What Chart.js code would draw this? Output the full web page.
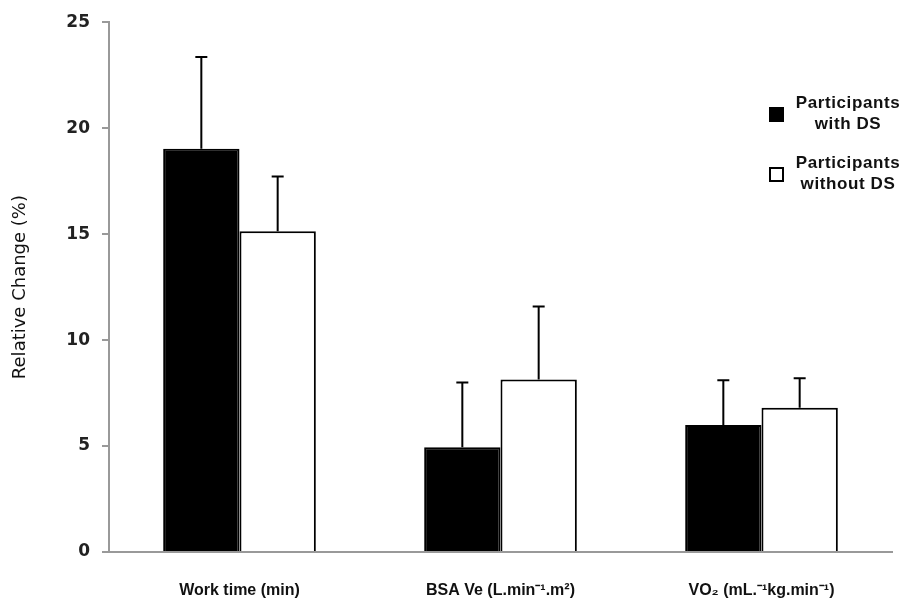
<!DOCTYPE html>
<html>
<head>
<meta charset="utf-8">
<script src="https://cdn.jsdelivr.net/npm/chart.js@4/dist/chart.umd.min.js"></script>
<style>
    html, body { margin: 0; padding: 0; background: #fff; }
    #wrap { position: relative; width: 899px; height: 602px; overflow: hidden; }
    .legend { position: absolute; left: 0; top: 0; font-family: "Liberation Sans", Arial, sans-serif; font-weight: bold; font-size: 17px; letter-spacing: 0.6px; color: #111; }
    .legend .box { position: absolute; width: 11px; height: 11px; border: 2px solid #000; box-sizing: content-box; }
    .legend .txt { position: absolute; width: 124px; text-align: center; line-height: 21px; white-space: nowrap; }
</style>
</head>
<body>
<div id="wrap">
    <canvas id="relChart" width="899" height="602"></canvas>
    <div class="legend">
        <div class="box" style="left:769px;top:107px;background:#000;"></div>
        <div class="txt" style="left:786px;top:92px;">Participants<br>with DS</div>
        <div class="box" style="left:769px;top:167px;background:#fff;"></div>
        <div class="txt" style="left:786px;top:152px;">Participants<br>without DS</div>
    </div>
</div>
<script>
const categories = ['Work time (min)', 'BSA Ve (L.min\u207B\u00B9.m\u00B2)', 'VO\u2082 (mL.\u207B\u00B9kg.min\u207B\u00B9)'];
const withDS = [19.03, 4.94, 5.99];
const withDSErr = [4.33, 3.06, 2.12];
const withoutDS = [15.13, 8.14, 6.81];
const withoutDSErr = [2.59, 3.44, 1.39];
const yTicks = [0, 5, 10, 15, 20, 25];

const errorBars = {
    id: 'errorBars',
    afterDatasetsDraw(chart) {
        const { ctx, scales: { y } } = chart;
        const errs = [withDSErr, withoutDSErr];
        ctx.save();
        ctx.strokeStyle = '#000';
        ctx.lineWidth = 2;
        chart.data.datasets.forEach((ds, i) => {
            chart.getDatasetMeta(i).data.forEach((bar, j) => {
                const top = y.getPixelForValue(ds.data[j]);
                const end = y.getPixelForValue(ds.data[j] + errs[i][j]);
                ctx.beginPath();
                ctx.moveTo(bar.x, top);
                ctx.lineTo(bar.x, end);
                ctx.moveTo(bar.x - 6, end);
                ctx.lineTo(bar.x + 6, end);
                ctx.stroke();
            });
        });
        ctx.restore();
    },
};

new Chart(document.getElementById('relChart'), {
    type: 'bar',
    data: {
        labels: categories,
        datasets: [
            { label: 'Participants with DS', data: withDS, backgroundColor: '#000', borderColor: '#000', borderWidth: 2 },
            { label: 'Participants without DS', data: withoutDS, backgroundColor: '#fff', borderColor: '#000', borderWidth: 2 },
        ],
    },
    plugins: [errorBars],
    options: {
        responsive: false,
        animation: false,
        layout: { padding: { top: 14, right: 7, left: 0, bottom: 0 } },
        categoryPercentage: 0.585,
        barPercentage: 1,
        plugins: { legend: { display: false }, tooltip: { enabled: false } },
        scales: {
            x: {
                grid: { display: false },
                border: { color: '#999', width: 2 },
                ticks: {
                    color: '#111',
                    padding: 21,
                    font: { family: '"Liberation Sans Narrow", "Liberation Sans", Arial, sans-serif', weight: 'bold', size: 16 },
                },
                afterFit(scale) { scale.height = 50; },
            },
            y: {
                min: 0,
                max: 25,
                afterBuildTicks(scale) { scale.ticks = yTicks.map((v) => ({ value: v })); },
                grid: { drawOnChartArea: false, color: '#999', lineWidth: 2, tickLength: 7 },
                border: { color: '#999', width: 2 },
                ticks: {
                    color: '#222',
                    padding: 12,
                    font: { family: '"DejaVu Sans", Verdana, sans-serif', weight: 'bold', size: 17 },
                },
                title: {
                    display: true,
                    text: 'Relative Change (%)',
                    color: '#111',
                    padding: { top: 10, bottom: 0 },
                    font: { family: '"DejaVu Sans", Verdana, sans-serif', size: 18 },
                },
                afterFit(scale) { scale.width = 109; },
            },
        },
    },
});
</script>
</body>
</html>
